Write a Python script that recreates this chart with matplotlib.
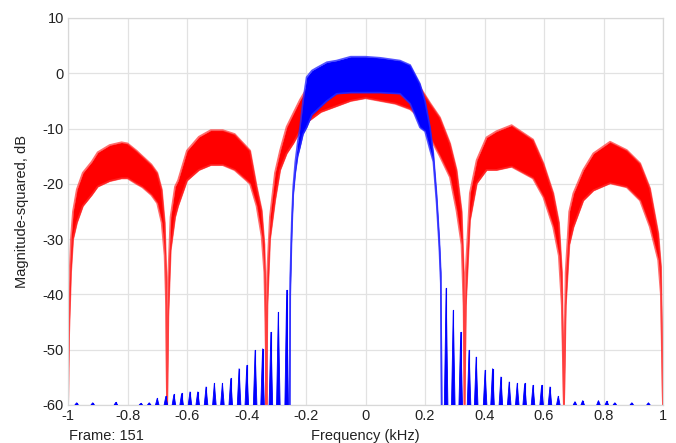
import numpy as np
import matplotlib.pyplot as plt

plt.rcParams['font.family'] = ['Liberation Sans', 'DejaVu Sans']
plt.rcParams['axes.unicode_minus'] = False

# red spectrum: frequency (kHz), lower and upper edge of the noisy band (dB)
red_f = [-1.000, -0.997, -0.990, -0.983, -0.970, -0.950, -0.920, -0.900, -0.860, -0.820,
         -0.800, -0.770, -0.750, -0.720, -0.700, -0.685, -0.675, -0.670, -0.667, -0.663,
         -0.655, -0.640, -0.630, -0.600, -0.560, -0.520, -0.480, -0.440, -0.400, -0.388,
         -0.366, -0.349, -0.340, -0.336, -0.333, -0.330, -0.321, -0.304, -0.287, -0.265,
         -0.243, -0.220, -0.200, -0.150, -0.100, -0.050, 0.000, 0.050, 0.100, 0.150,
         0.183, 0.217, 0.250, 0.284, 0.306, 0.323, 0.330, 0.333, 0.337, 0.351,
         0.374, 0.407, 0.440, 0.491, 0.563, 0.598, 0.631, 0.650, 0.660, 0.667,
         0.673, 0.685, 0.699, 0.732, 0.766, 0.822, 0.878, 0.923, 0.956, 0.984,
         0.993, 1.000]
red_lo = [-60, -48, -36, -30, -27, -24, -22, -20.5, -19.5, -19,
          -19, -20, -20.6, -22, -23.5, -27, -33, -42, -60, -44,
          -32, -26, -24, -19.4, -17.5, -16.6, -16.6, -17.5, -19.4, -20,
          -24, -29.5, -36, -45, -60, -42, -30, -23, -17.5, -14.5,
          -12.7, -10.5, -9, -7, -6, -5, -4.5, -5, -5.5, -6.5,
          -8, -11.6, -15, -18.8, -24.8, -31, -42, -60, -42, -26.6,
          -19.9, -17.5, -17.5, -16.9, -19, -22.4, -27.8, -33, -42, -60,
          -42, -31, -27.8, -23, -21.2, -19.9, -20.6, -23, -27.8, -33.8,
          -40, -60]
red_hi = [-60, -40, -30, -25, -21, -18, -16, -14.3, -13, -12.5,
          -12.7, -14, -15, -16.5, -18, -21, -27, -36, -60, -37,
          -26, -20.5, -19.4, -14, -11.5, -10.3, -10.3, -11, -13.3, -14,
          -20.5, -24.8, -31, -40, -60, -36, -26, -18, -14, -9.7,
          -7.3, -4.8, -3, -1, 0, 0.5, 1, 0.5, 0, -1,
          -2.5, -5.4, -8, -12.7, -17.5, -25, -36, -60, -36, -21.7,
          -15.7, -11.6, -10.5, -9.4, -12, -16.3, -21.7, -27, -36, -60,
          -36, -25, -21.7, -17.5, -14.5, -12.4, -13.9, -16.3, -20.8, -29,
          -35, -60]

# blue spectrum main lobe: frequency (kHz), lower and upper band edge (dB)
blue_f = [-0.2545, -0.253, -0.248, -0.243, -0.236, -0.228, -0.220, -0.210, -0.198, -0.180,
          -0.164, -0.130, -0.097, -0.050, 0.000, 0.050, 0.116, 0.150, 0.183, 0.200,
          0.217, 0.228, 0.239, 0.248, 0.253, 0.256]
blue_lo = [-60, -40, -29, -22, -18, -15, -13.3, -11, -9.8, -7.5,
           -6.7, -5, -3.7, -3.5, -3.5, -3.5, -3.7, -5.5, -9.8, -10.5,
           -13.9, -16, -23.5, -31.5, -38, -60]
blue_hi = [-60, -37, -27, -20.5, -16, -12.5, -9.7, -5, -0.7, 0.5,
           1, 2, 2.3, 3, 3, 2.8, 2.3, 1.5, -1.9, -5,
           -9.8, -14.5, -22, -30, -36, -60]

# blue sidelobe peaks: frequency (kHz), peak level (dB)
lobe_f = [-0.971, -0.917, -0.839, -0.755, -0.727, -0.700, -0.671, -0.644, -0.618, -0.590,
          -0.564, -0.536, -0.508, -0.481, -0.453, -0.425, -0.399, -0.371, -0.346, -0.318,
          -0.293, -0.265,
          0.271, 0.295, 0.320, 0.348, 0.372, 0.402, 0.427, 0.455, 0.483, 0.510,
          0.535, 0.563, 0.592, 0.620, 0.648, 0.704, 0.730, 0.783, 0.811, 0.838,
          0.895, 0.951]
lobe_db = [-59.6, -59.6, -59.5, -59.7, -59.6, -58.8, -58.4, -58.1, -57.9, -57.6,
           -57.6, -56.7, -56.1, -56.1, -55.2, -53.4, -52.8, -50.1, -49.8, -46.8,
           -43.2, -39.2,
           -38.9, -42.9, -46.8, -50.1, -51.3, -53.7, -53.4, -54.9, -55.8, -56.1,
           -56.1, -56.4, -56.4, -56.7, -58.4, -59.4, -59.2, -59.2, -59.3, -59.6,
           -59.6, -59.6]

xticks = [-1, -0.8, -0.6, -0.4, -0.2, 0, 0.2, 0.4, 0.6, 0.8, 1]
xtick_labels = ['-1', '-0.8', '-0.6', '-0.4', '-0.2', '0', '0.2', '0.4', '0.6', '0.8', '1']
yticks = [-60, -50, -40, -30, -20, -10, 0, 10]

fs = 10.5
txt = '#222222'

fig = plt.figure(figsize=(6.76, 4.43), dpi=100)
ax = fig.add_axes([0.1006, 0.0858, 0.8802, 0.8736])

ax.fill_between(red_f, red_lo, red_hi, color='#ff0000', lw=0, zorder=2)
ax.plot(red_f, red_lo, color='#ff3030', lw=1.4, alpha=0.7, zorder=2)
ax.plot(red_f, red_hi, color='#ff3030', lw=1.4, alpha=0.7, zorder=2)

# sidelobes as narrow spikes rising from the floor
half = 0.006
for f, db in zip(lobe_f, lobe_db):
    ax.fill([f - half, f, f + half], [-60, db, -60], color='#0000ff', lw=0.6, zorder=3)
    ax.plot([f, f], [-60, db], color='#0000ff', lw=0.8, zorder=3)

ax.fill_between(blue_f, blue_lo, blue_hi, color='#0000ff', lw=0, zorder=3)
ax.plot(blue_f, blue_lo, color='#2a2aff', lw=1.2, alpha=0.8, zorder=3)
ax.plot(blue_f, blue_hi, color='#2a2aff', lw=1.2, alpha=0.8, zorder=3)

ax.set_xlim(-1, 1)
ax.set_ylim(-60, 10)
ax.set_xticks(xticks)
ax.set_xticklabels(xtick_labels)
ax.set_yticks(yticks)
ax.grid(True, color='#e2e2e2', lw=0.9, zorder=0)
ax.set_axisbelow(True)
for s in ax.spines.values():
    s.set_color('#d8d8d8')
    s.set_linewidth(0.9)
ax.tick_params(length=0, pad=3, labelsize=fs, colors=txt)

ax.set_xlabel('Frequency (kHz)', fontsize=fs, color=txt, va='center')
ax.xaxis.set_label_coords(0.5, -(436 - 405) / 387, transform=ax.transAxes)
ax.set_ylabel('Magnitude-squared, dB', fontsize=fs, color=txt, va='center')
ax.yaxis.set_label_coords(-(68 - 22) / 595, 0.5, transform=ax.transAxes)
fig.text(69 / 676, 1 - 436 / 443, 'Frame: 151', fontsize=fs, va='center', ha='left', color=txt)

fig.savefig('out.png', dpi=100)
